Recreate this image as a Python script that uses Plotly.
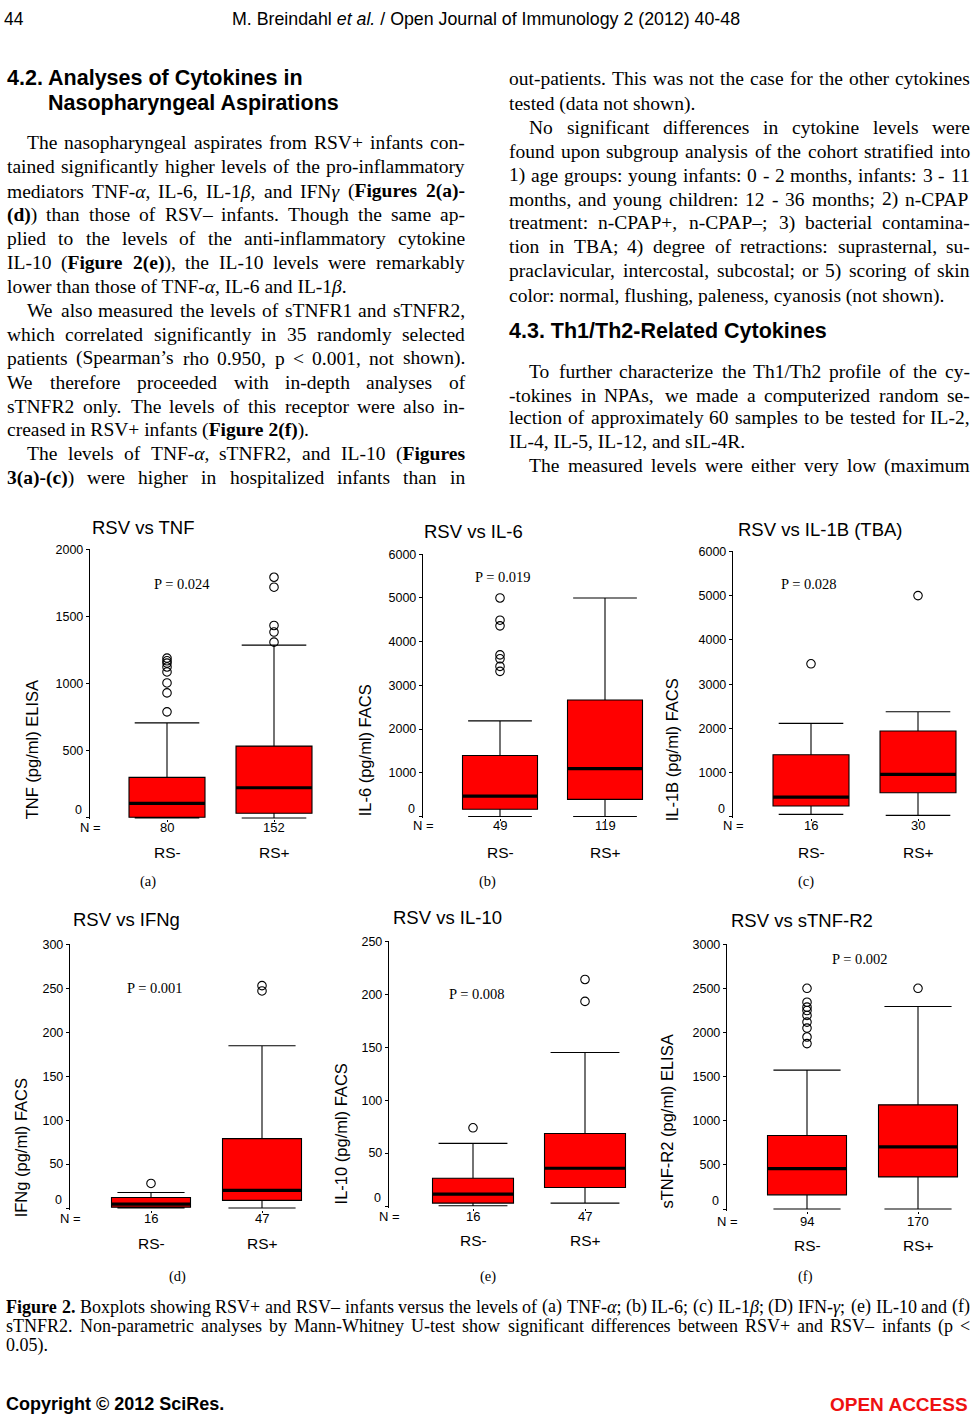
import re
import plotly.graph_objects as go

W, H = 974, 1419

# ---------------- chart data ----------------
groups = ["RS-", "RS+"]
titles = ["RSV vs TNF", "RSV vs IL-6", "RSV vs IL-1B (TBA)",
          "RSV vs IFNg", "RSV vs IL-10", "RSV vs sTNF-R2"]
ylabels = ["TNF (pg/ml) ELISA", "IL-6 (pg/ml) FACS", "IL-1B (pg/ml) FACS",
           "IFNg (pg/ml) FACS", "IL-10 (pg/ml) FACS", "sTNF-R2 (pg/ml) ELISA"]
panel_tags = ["(a)", "(b)", "(c)", "(d)", "(e)", "(f)"]
n_counts = [[80, 152], [49, 119], [16, 30], [16, 47], [16, 47], [94, 170]]
p_labels = ["P = 0.024", "P = 0.019", "P = 0.028", "P = 0.001", "P = 0.008", "P = 0.002"]
y_max = [2000, 6000, 6000, 300, 250, 3000]
y_step = [500, 1000, 1000, 50, 50, 500]

q1 = [[5, 35], [166, 392], [247, 546], [1, 8.7], [2.8, 17.5], [161, 364]]
median = [[109, 225], [468, 1094], [448, 964], [4.5, 20], [11.3, 35.7], [458, 705]]
q3 = [[302, 535], [1396, 2664], [1405, 1943], [12, 79], [26.3, 68.6], [833, 1181]]
lower_whisker = [[0, 0], [0, 0], [60, 37], [0, 0], [0.3, 2.8], [0, 0]]
upper_whisker = [[708, 1287], [2189, 5000], [2115, 2377], [17.7, 184.6], [59.2, 145], [1575, 2295]]
outliers_neg = [[790, 931, 1005, 1087, 1124, 1153, 1170, 1190],
                [3321, 3434, 3608, 3698, 4362, 4491, 5000],
                [3460],
                [28],
                [73.9],
                [1875, 1950, 2051, 2119, 2194, 2250, 2288, 2344, 2502]]
outliers_pos = [[1309, 1384, 1433, 1718, 1792],
                [],
                [5000],
                [247, 253],
                [193.3, 214],
                [2502]]

# ---------------- layout in pixels ----------------
PANEL_PX = [
    dict(ax=90, c=(167, 274), right=330, y0=815, yt=545, bw=76),
    dict(ax=423, c=(500, 605), right=660, y0=813.5, yt=550, bw=75),
    dict(ax=733, c=(811, 918), right=970, y0=814, yt=547, bw=76),
    dict(ax=70, c=(151, 262), right=320, y0=1207, yt=942, bw=79),
    dict(ax=389, c=(473, 585), right=640, y0=1205, yt=939, bw=81),
    dict(ax=727, c=(807, 918), right=970, y0=1208, yt=942, bw=79),
]
TITLE_XY = [(143, 523), (473, 527), (820, 525), (127, 917), (447, 915), (802, 918)]
P_XY = [(182, 580), (503, 573), (809, 580), (155, 986), (477, 992), (860, 957)]
YLAB_XY = [(32, 747), (365, 747), (672, 747), (21, 1147), (341, 1133), (667, 1120)]
TAG_XY = [(148, 879), (487, 879), (806, 879), (177, 1276), (488, 1276), (805, 1276)]
N_Y = [825, 823, 823, 1218, 1215, 1221]
G_Y = [850, 850, 850, 1243, 1240, 1245]

SANS = "Liberation Sans"
SERIF = "Liberation Serif"

fig = go.Figure()
annotations = []


def ann(text, x, y, size, family=SANS, color="black", xanchor="center",
        yanchor="middle", angle=0, xref="paper"):
    annotations.append(dict(
        text=text, x=(x / W if xref == "paper" else x), y=1 - y / H,
        xref=xref, yref="paper", showarrow=False, xanchor=xanchor,
        yanchor=yanchor, textangle=angle, borderpad=0,
        font=dict(family=family, size=size, color=color)))


layout_axes = {}
for k in range(6):
    P = PANEL_PX[k]
    sfx = "" if k == 0 else str(k + 1)
    xr, yr = "x" + sfx, "y" + sfx
    u = P["c"][1] - P["c"][0]
    pos = [1, 2]
    xlo = 1 - (P["c"][0] - P["ax"]) / u
    xhi = 2 + (P["right"] - P["c"][1]) / u
    kpx = (P["y0"] - P["yt"]) / y_max[k]
    pad = 1.5
    ylo = -pad / kpx
    bw = P["bw"] / u

    for g in range(2):
        fig.add_trace(go.Box(
            x=[pos[g]], q1=[q1[k][g]], median=[median[k][g]], q3=[q3[k][g]],
            lowerfence=[lower_whisker[k][g]], upperfence=[upper_whisker[k][g]],
            width=bw, whiskerwidth=0.85, fillcolor="#ff0000",
            line=dict(color="black", width=1.1), boxpoints=False,
            xaxis=xr, yaxis=yr, showlegend=False, hoverinfo="skip"))
        fig.add_trace(go.Scatter(
            x=[pos[g] - bw / 2, pos[g] + bw / 2],
            y=[median[k][g], median[k][g]], mode="lines",
            line=dict(color="black", width=3.2), xaxis=xr, yaxis=yr,
            showlegend=False, hoverinfo="skip"))
        outs = outliers_neg[k] if g == 0 else outliers_pos[k]
        if outs:
            fig.add_trace(go.Scatter(
                x=[pos[g]] * len(outs), y=outs, mode="markers",
                marker=dict(symbol="circle-open", size=8.5, color="black",
                            line=dict(width=1.1)),
                xaxis=xr, yaxis=yr, showlegend=False, hoverinfo="skip",
                cliponaxis=False))

    tv = list(range(0, y_max[k] + 1, y_step[k]))
    layout_axes["xaxis" + sfx] = dict(
        domain=[P["ax"] / W, P["right"] / W], range=[xlo, xhi],
        anchor=yr, showgrid=False, zeroline=False, showline=False,
        tickvals=pos, ticks="outside", ticklen=2, tickcolor="black",
        showticklabels=False, fixedrange=True)
    layout_axes["yaxis" + sfx] = dict(
        domain=[1 - (P["y0"] + pad) / H, 1 - P["yt"] / H],
        range=[ylo, y_max[k]], anchor=xr, showgrid=False, zeroline=False,
        showline=True, linecolor="black", linewidth=1.2,
        tickvals=tv, ticktext=[""] + [str(v) for v in tv[1:]],
        ticks="outside", ticklen=3, tickcolor="black",
        tickfont=dict(family=SANS, size=12.5, color="black"))

    # zero label sits a little above the zero tick, as in the reference
    ann("0", P["ax"] - 7, P["y0"] - 8, 12.5, xanchor="right")

    ann(titles[k], *TITLE_XY[k], 18.5)
    ann(ylabels[k], YLAB_XY[k][0], YLAB_XY[k][1], 16.5, angle=-90)
    ann(p_labels[k], *P_XY[k], 14.5, family=SERIF)
    ann(panel_tags[k], *TAG_XY[k], 14.5, family=SERIF)
    ann("N =", P["ax"], N_Y[k], 13)
    for g in range(2):
        ann(str(n_counts[k][g]), pos[g], N_Y[k], 13, xref=xr)
        ann(groups[g], pos[g], G_Y[k], 15.5, xref=xr)

# ---------------- page text ----------------
TR = {' ': 250, '(': 333, ')': 333, '+': 564, ',': 250, '-': 333, '.': 250,
      '/': 278, ':': 278, ';': 278, '<': 564, '=': 564, "’": 333, '–': 500,
      'α': 500, 'β': 500, 'γ': 450}
for ch in "0123456789":
    TR[ch] = 500
TR.update(dict(zip("ABCDEFGHIJKLMNOPQRSTUVWXYZ",
                   [722, 667, 667, 722, 611, 556, 722, 722, 333, 389, 722, 611, 889,
                    722, 722, 556, 722, 667, 556, 611, 722, 722, 944, 722, 722, 611])))
TR.update(dict(zip("abcdefghijklmnopqrstuvwxyz",
                   [444, 500, 444, 500, 444, 333, 500, 500, 278, 278, 500, 278, 778,
                    500, 500, 500, 500, 333, 389, 278, 500, 500, 722, 500, 500, 444])))
TB = dict(TR)
TB.update(dict(zip("abcdefghijklmnopqrstuvwxyz",
                   [500, 556, 444, 556, 444, 333, 500, 556, 278, 333, 556, 278, 833,
                    556, 500, 556, 556, 444, 389, 333, 556, 500, 722, 500, 500, 444])))
TB.update({'F': 611, 'C': 722, 'E': 667})


def parse_runs(s):
    runs, bold, ital, p = [], False, False, 0
    for m in re.finditer(r'<(/?)([bi])>', s):
        if m.start() > p:
            runs.append((s[p:m.start()], bold, ital))
        if m.group(2) == 'b':
            bold = m.group(1) != '/'
        else:
            ital = m.group(1) != '/'
        p = m.end()
    if p < len(s):
        runs.append((s[p:], bold, ital))
    return runs


def split_words(s):
    words = [[]]
    for t, b, i in parse_runs(s):
        for j, part in enumerate(t.split(' ')):
            if j > 0:
                words.append([])
            if part:
                words[-1].append((part, b, i))
    return [w for w in words if w]


def word_html(w):
    out = ''
    for t, b, i in w:
        t2 = t.replace('<', '&lt;')
        if i:
            t2 = '<i>' + t2 + '</i>'
        if b:
            t2 = '<b>' + t2 + '</b>'
        out += t2
    return out


def word_width(w, fs):
    tot = 0
    for t, b, i in w:
        tab = TB if b else TR
        tot += sum(tab.get(ch, 500) for ch in t)
    return tot * fs / 1000.0


def text_line(text, y, left, right, fs, justify):
    words = split_words(text)
    if not justify or len(words) < 2:
        ann(' '.join(word_html(w) for w in words), left, y, fs, family=SERIF,
            xanchor="left")
        return
    widths = [word_width(w, fs) for w in words]
    gap = (right - left - sum(widths)) / (len(words) - 1)
    x = left
    for w, wd in zip(words, widths):
        ann(word_html(w), x, y, fs, family=SERIF, xanchor="left")
        x += wd + gap


BODY = 19.5
col1 = [
    ("The nasopharyngeal aspirates from RSV+ infants con-", 136, True, True),
    ("tained significantly higher levels of the pro-inflammatory", 160, False, True),
    ("mediators TNF-<i>α</i>, IL-6, IL-1<i>β</i>, and IFN<i>γ</i> (<b>Figures 2(a)-</b>", 185, False, True),
    ("<b>(d)</b>) than those of RSV– infants. Though the same ap-", 209, False, True),
    ("plied to the levels of the anti-inflammatory cytokine", 233, False, True),
    ("IL-10 (<b>Figure 2(e)</b>), the IL-10 levels were remarkably", 257, False, True),
    ("lower than those of TNF-<i>α</i>, IL-6 and IL-1<i>β</i>.", 281, False, False),
    ("We also measured the levels of sTNFR1 and sTNFR2,", 305, True, True),
    ("which correlated significantly in 35 randomly selected", 329, False, True),
    ("patients (Spearman’s rho 0.950, p < 0.001, not shown).", 353, False, True),
    ("We therefore proceeded with in-depth analyses of", 377, False, True),
    ("sTNFR2 only. The levels of this receptor were also in-", 401, False, True),
    ("creased in RSV+ infants (<b>Figure 2(f)</b>).", 425, False, False),
    ("The levels of TNF-<i>α</i>, sTNFR2, and IL-10 (<b>Figures</b>", 449, True, True),
    ("<b>3(a)-(c)</b>) were higher in hospitalized infants than in", 473, False, True),
]
for t, y, ind, just in col1:
    text_line(t, y, 26 if ind else 6, 464, BODY, just)

col2 = [
    ("out-patients. This was not the case for the other cytokines", 72, False, True),
    ("tested (data not shown).", 97, False, False),
    ("No significant differences in cytokine levels were", 121, True, True),
    ("found upon subgroup analysis of the cohort stratified into", 145, False, True),
    ("1) age groups: young infants: 0 - 2 months, infants: 3 - 11", 169, False, True),
    ("months, and young children: 12 - 36 months; 2) n-CPAP", 193, False, True),
    ("treatment: n-CPAP+, n-CPAP–; 3) bacterial contamina-", 217, False, True),
    ("tion in TBA; 4) degree of retractions: suprasternal, su-", 241, False, True),
    ("praclavicular, intercostal, subcostal; or 5) scoring of skin", 265, False, True),
    ("color: normal, flushing, paleness, cyanosis (not shown).", 290, False, False),
    ("To further characterize the Th1/Th2 profile of the cy-", 366, True, True),
    ("-tokines in NPAs, we made a computerized random se-", 390, False, True),
    ("lection of approximately 60 samples to be tested for IL-2,", 413, False, True),
    ("IL-4, IL-5, IL-12, and sIL-4R.", 437, False, False),
    ("The measured levels were either very low (maximum", 461, True, True),
]
for t, y, ind, just in col2:
    text_line(t, y, 528 if ind else 508, 969, BODY, just)

# headings
ann("<b>4.2. Analyses of Cytokines in</b>", 6, 71, 21.5, xanchor="left")
ann("<b>Nasopharyngeal Aspirations</b>", 47, 96, 21.5, xanchor="left")
ann("<b>4.3. Th1/Th2-Related Cytokines</b>", 508, 326, 21.5, xanchor="left")

# running header
ann("44", 3, 12, 17.5, xanchor="left")
ann("M. Breindahl <i>et al.</i> / Open Journal of Immunology 2 (2012) 40-48", 486, 12, 17.8)

# caption
CAP = 18
cap = [
    ("<b>Figure 2.</b> Boxplots showing RSV+ and RSV– infants versus the levels of (a) TNF-<i>α</i>; (b) IL-6; (c) IL-1<i>β</i>; (D) IFN-<i>γ</i>; (e) IL-10 and (f)", 1306, True),
    ("sTNFR2. Non-parametric analyses by Mann-Whitney U-test show significant differences between RSV+ and RSV– infants (p <", 1326, True),
    ("0.05).", 1345, False),
]
for t, y, just in cap:
    text_line(t, y, 5, 969, CAP, just)

# footer
ann("<b>Copyright © 2012 SciRes.</b>", 5, 1404, 18, xanchor="left")
ann("<b>OPEN ACCESS</b>", 969, 1404, 19, color="#ee1111", xanchor="right")

fig.update_layout(
    width=W, height=H, margin=dict(l=0, r=0, t=0, b=0),
    paper_bgcolor="white", plot_bgcolor="white", showlegend=False,
    annotations=annotations, **layout_axes)

fig.write_html(
    "out.html",
    config={"displayModeBar": False, "staticPlot": True},
    post_script=(
        "document.documentElement.style.margin='0px';"
        "document.body.style.margin='0px';"
        "document.body.style.padding='0px';"
        "document.documentElement.style.overflow='hidden';"
        "var gd=document.getElementById('{plot_id}');"
        "gd.style.position='absolute';gd.style.top='0px';gd.style.left='0px';"
        "document.body.style.height='1419px';"))
